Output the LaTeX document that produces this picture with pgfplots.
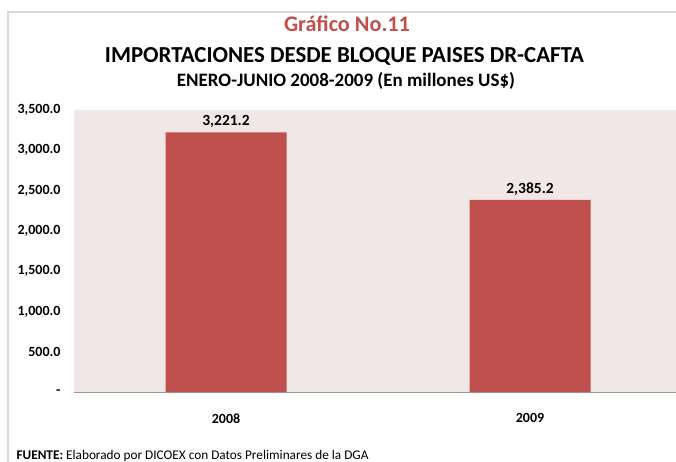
\documentclass[border=0pt]{standalone}
\usepackage{fontspec}
\setmainfont{Carlito}
\usepackage{pgfplots}
\pgfplotsset{compat=1.18}
\definecolor{barred}{HTML}{C0504D}
\definecolor{bgpink}{HTML}{F2E7E7}
\definecolor{titred}{HTML}{C0504D}
\definecolor{framegray}{HTML}{D9D9D9}
\begin{document}
\begin{tikzpicture}
\useasboundingbox (0,0) rectangle (676pt,-462pt);
\fill[white] (0,0) rectangle (676pt,-462pt);
\draw[framegray, line width=1.2pt] (8pt,-480pt) -- (8pt,-12pt) -- (700pt,-12pt);
\node[anchor=base, inner sep=0pt, text=titred, font=\bfseries] at (347pt,-32pt) {\resizebox{126pt}{!}{Gráfico No.11}};
\node[anchor=base, inner sep=0pt, text=black, font=\bfseries] at (344.5pt,-63pt) {\resizebox{479pt}{!}{IMPORTACIONES DESDE BLOQUE PAISES DR-CAFTA}};
\node[anchor=base, inner sep=0pt, text=black, font=\bfseries] at (346pt,-87pt) {\resizebox{338pt}{!}{ENERO-JUNIO 2008-2009 (En millones US\$)}};
\begin{axis}[
  at={(74pt,-392pt)}, anchor=south west,
  scale only axis, width=602pt, height=282pt,
  xmin=-0.5, xmax=1.48, ymin=0, ymax=3500,
  ytick={0,500,1000,1500,2000,2500,3000,3500},
  yticklabels={{-},{500.0},{1,000.0},{1,500.0},{2,000.0},{2,500.0},{3,000.0},{3,500.0}},
  xtick={0,1}, xticklabels={2008,2009},
  axis background/.style={fill=bgpink},
  axis x line*=bottom, axis y line*=left,
  y axis line style={draw=none},
  x axis line style={draw=black!40, -},
  major tick length=0pt, tick style={draw=none},
  ticklabel style={font=\fontsize{14}{16}\selectfont\bfseries},
  yticklabel style={xshift=-10pt},
  xticklabel style={yshift=-18pt},
  /pgf/number format/assume math mode=true,
  ybar, bar width=0.398,
  nodes near coords,
  nodes near coords style={font=\fontsize{15.5}{17}\selectfont\bfseries, yshift=1pt,
    /pgf/number format/.cd, fixed, fixed zerofill, precision=1, 1000 sep={,}, assume math mode=true},
  clip=false,
]
\addplot[fill=barred, draw=none] coordinates {(0,3221.2) (1,2385.2)};
\end{axis}
\node[anchor=west] at (13pt,-456pt) {\resizebox{352pt}{!}{\textbf{FUENTE:} Elaborado por DICOEX con Datos Preliminares de la DGA}};
\end{tikzpicture}
\end{document}
